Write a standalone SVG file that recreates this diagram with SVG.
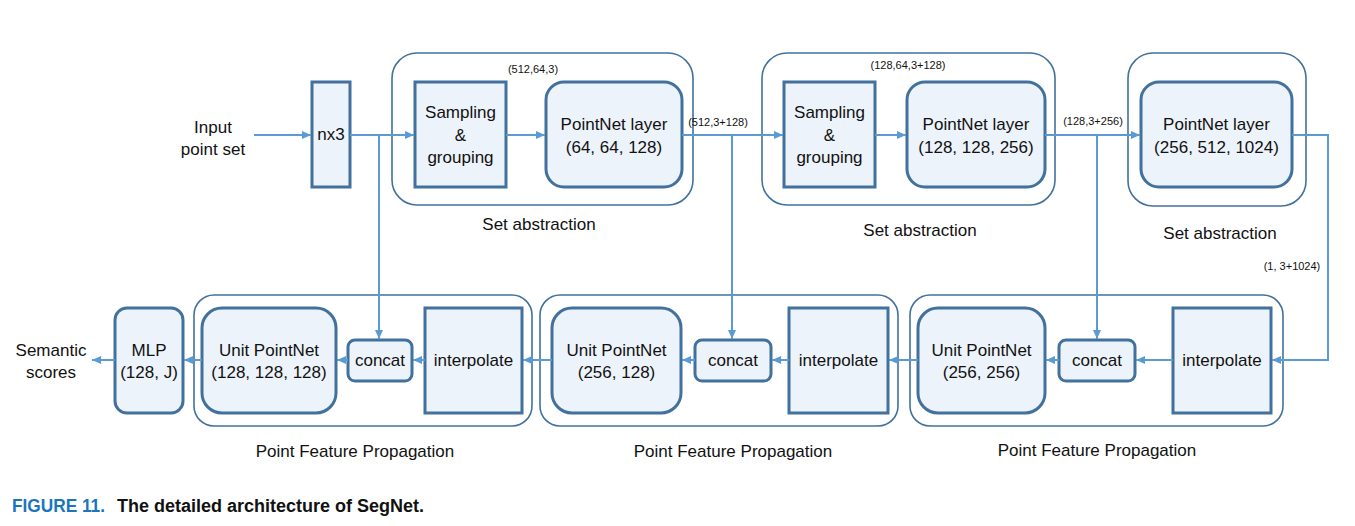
<svg xmlns="http://www.w3.org/2000/svg" width="1355" height="526" viewBox="0 0 1355 526">
<style>
.outer{fill:#fff;stroke:#41719C;stroke-width:1.6}
.node{fill:#EDF3FA;stroke:#41719C;stroke-width:3}
.t{font-family:"Liberation Sans",Arial,sans-serif;font-size:17px;fill:#111;text-anchor:middle}
.s{font-family:"Liberation Sans",Arial,sans-serif;font-size:11px;fill:#111;text-anchor:middle}
.c{fill:none;stroke:#5B9BD5;stroke-width:2}
.cap{font-family:"Liberation Sans",Arial,sans-serif;font-size:18px;font-weight:bold}
</style>
<defs>
<marker id="ah" markerUnits="userSpaceOnUse" markerWidth="10" markerHeight="10" viewBox="0 0 10 10" refX="9" refY="5" orient="auto">
<path d="M0,1 L9,5 L0,9 Z" fill="#5B9BD5"/>
</marker>
</defs>
<rect width="1355" height="526" fill="#fff"/>

<g id="sa1">
<rect class="outer" x="392" y="53" width="301" height="152" rx="25"/>
<text class="t" x="539" y="230">Set abstraction</text>
</g>
<g id="sa2">
<rect class="outer" x="762" y="53" width="293" height="152" rx="25"/>
<text class="t" x="920" y="236">Set abstraction</text>
</g>
<g id="sa3">
<rect class="outer" x="1128" y="53" width="178" height="153" rx="25"/>
<text class="t" x="1220" y="239">Set abstraction</text>
</g>
<g id="fp1">
<rect class="outer" x="194" y="295" width="338" height="131" rx="20"/>
<text class="t" x="355" y="457">Point Feature Propagation</text>
</g>
<g id="fp2">
<rect class="outer" x="540" y="295" width="358" height="131" rx="20"/>
<text class="t" x="733" y="457">Point Feature Propagation</text>
</g>
<g id="fp3">
<rect class="outer" x="910" y="295" width="373" height="131" rx="20"/>
<text class="t" x="1097" y="456">Point Feature Propagation</text>
</g>

<g id="input">
<text class="t" x="213" y="133">Input</text>
<text class="t" x="213" y="155">point set</text>
</g>
<g id="nx3">
<rect class="node" x="312" y="82" width="38" height="105"/>
<text class="t" x="331" y="140">nx3</text>
</g>
<g id="sampling1">
<rect class="node" x="415" y="82" width="91" height="105"/>
<text class="t" x="460.5" y="118">Sampling</text>
<text class="t" x="460.5" y="141">&amp;</text>
<text class="t" x="460.5" y="163">grouping</text>
</g>
<g id="pn1">
<rect class="node" x="546" y="82" width="136" height="105" rx="18"/>
<text class="t" x="614" y="130">PointNet layer</text>
<text class="t" x="614" y="153">(64, 64, 128)</text>
</g>
<g id="sampling2">
<rect class="node" x="784" y="82" width="91" height="105"/>
<text class="t" x="829.5" y="118">Sampling</text>
<text class="t" x="829.5" y="141">&amp;</text>
<text class="t" x="829.5" y="163">grouping</text>
</g>
<g id="pn2">
<rect class="node" x="907" y="82" width="138" height="105" rx="18"/>
<text class="t" x="976" y="130">PointNet layer</text>
<text class="t" x="976" y="153">(128, 128, 256)</text>
</g>
<g id="pn3">
<rect class="node" x="1141" y="82" width="151" height="105" rx="18"/>
<text class="t" x="1216.5" y="130">PointNet layer</text>
<text class="t" x="1216.5" y="153">(256, 512, 1024)</text>
</g>

<g id="semantic">
<text class="t" x="51" y="356">Semantic</text>
<text class="t" x="51" y="378">scores</text>
</g>
<g id="mlp">
<rect class="node" x="115" y="308" width="68" height="105" rx="12"/>
<text class="t" x="149" y="356">MLP</text>
<text class="t" x="149" y="378">(128, J)</text>
</g>
<g id="upn1">
<rect class="node" x="202" y="308" width="134" height="105" rx="20"/>
<text class="t" x="269" y="356">Unit PointNet</text>
<text class="t" x="269" y="378">(128, 128, 128)</text>
</g>
<g id="concat1">
<rect class="node" x="348" y="340" width="64" height="41" rx="7"/>
<text class="t" x="380" y="366">concat</text>
</g>
<g id="interp1">
<rect class="node" x="425" y="308" width="97" height="105"/>
<text class="t" x="473.5" y="366">interpolate</text>
</g>
<g id="upn2">
<rect class="node" x="552" y="308" width="129" height="105" rx="20"/>
<text class="t" x="616.5" y="356">Unit PointNet</text>
<text class="t" x="616.5" y="378">(256, 128)</text>
</g>
<g id="concat2">
<rect class="node" x="695" y="340" width="76" height="41" rx="7"/>
<text class="t" x="733" y="366">concat</text>
</g>
<g id="interp2">
<rect class="node" x="789" y="308" width="99" height="105"/>
<text class="t" x="838.5" y="366">interpolate</text>
</g>
<g id="upn3">
<rect class="node" x="918" y="308" width="127" height="105" rx="20"/>
<text class="t" x="981.5" y="356">Unit PointNet</text>
<text class="t" x="981.5" y="378">(256, 256)</text>
</g>
<g id="concat3">
<rect class="node" x="1059" y="340" width="76" height="41" rx="7"/>
<text class="t" x="1097" y="366">concat</text>
</g>
<g id="interp3">
<rect class="node" x="1173" y="308" width="98" height="105"/>
<text class="t" x="1222" y="366">interpolate</text>
</g>

<g id="connectors">
<path class="c" d="M254,135 H311" marker-end="url(#ah)"/>
<path class="c" d="M350,135 H414" marker-end="url(#ah)"/>
<path class="c" d="M379,135 V339" marker-end="url(#ah)"/>
<path class="c" d="M506,135 H545" marker-end="url(#ah)"/>
<path class="c" d="M682,135 H783" marker-end="url(#ah)"/>
<path class="c" d="M732,135 V339" marker-end="url(#ah)"/>
<path class="c" d="M875,135 H906" marker-end="url(#ah)"/>
<path class="c" d="M1045,135 H1140" marker-end="url(#ah)"/>
<path class="c" d="M1097,135 V339" marker-end="url(#ah)"/>
<path class="c" d="M1292,135 H1328 V360 H1272" marker-end="url(#ah)"/>
<path class="c" d="M1173,360 H1136" marker-end="url(#ah)"/>
<path class="c" d="M1059,360 H1046" marker-end="url(#ah)"/>
<path class="c" d="M918,360 H889" marker-end="url(#ah)"/>
<path class="c" d="M789,360 H772" marker-end="url(#ah)"/>
<path class="c" d="M695,360 H682" marker-end="url(#ah)"/>
<path class="c" d="M552,360 H523" marker-end="url(#ah)"/>
<path class="c" d="M425,360 H413" marker-end="url(#ah)"/>
<path class="c" d="M348,360 H337" marker-end="url(#ah)"/>
<path class="c" d="M202,360 H184" marker-end="url(#ah)"/>
<path class="c" d="M115,360 H92" marker-end="url(#ah)"/>
<text class="s" x="533" y="73">(512,64,3)</text>
<text class="s" x="908" y="69">(128,64,3+128)</text>
<text class="s" x="718" y="126">(512,3+128)</text>
<text class="s" x="1093" y="125">(128,3+256)</text>
<text class="s" x="1292" y="270">(1, 3+1024)</text>
</g>

<g id="caption">
<text class="cap" x="12" y="512" fill="#1B75BC" textLength="93" lengthAdjust="spacingAndGlyphs">FIGURE 11.</text>
<text class="cap" x="117" y="512" fill="#111">The detailed architecture of SegNet.</text>
</g>
</svg>
